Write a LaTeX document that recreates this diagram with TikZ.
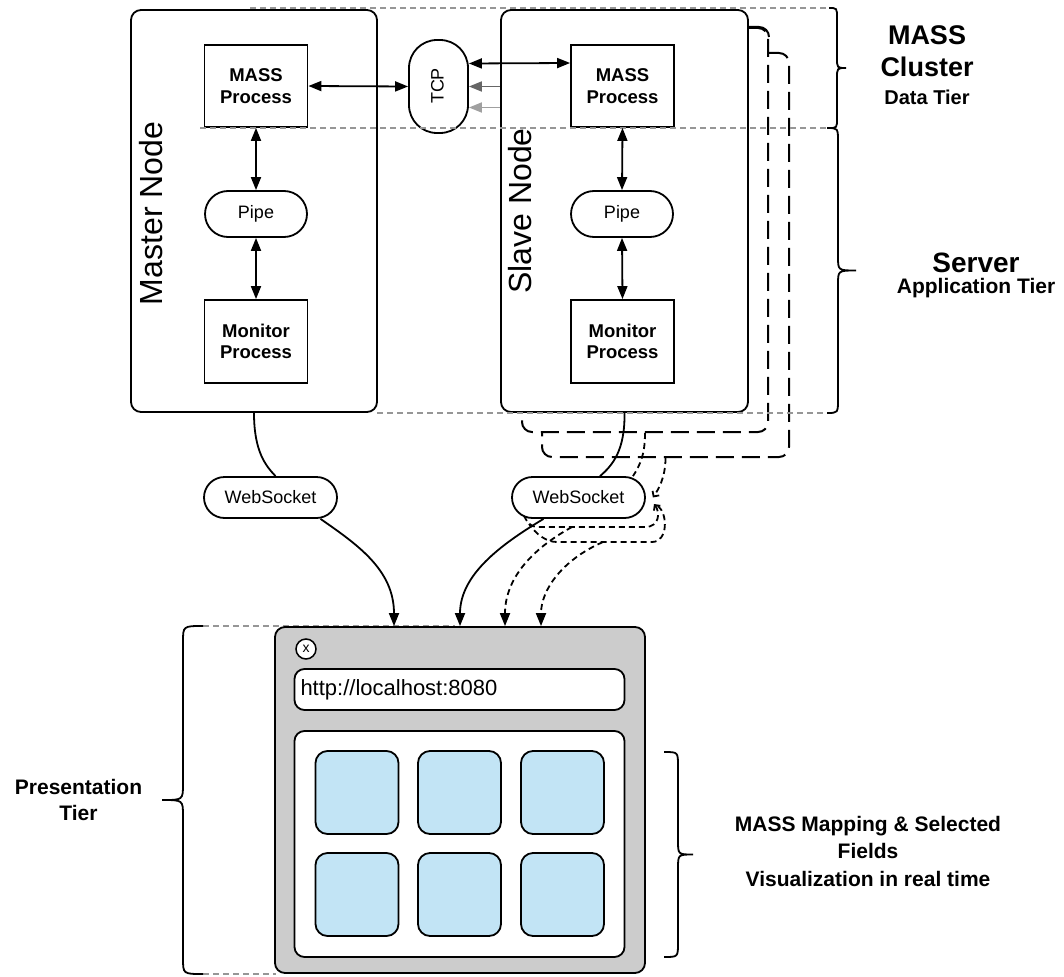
\documentclass[tikz,border=0pt]{standalone}
\usepackage{fontspec}
\setmainfont{Liberation Sans}
\usetikzlibrary{arrows.meta,calc}
\definecolor{browsergray}{RGB}{204,204,204}
\definecolor{tileblue}{RGB}{194,228,245}
\definecolor{guidegray}{RGB}{150,150,150}
\definecolor{darkarrow}{RGB}{102,102,102}
\definecolor{lightarrow}{RGB}{160,160,160}
\newcommand{\fsz}[2]{\fontsize{#1}{#2}\selectfont}
\newcommand{\tierbrace}[6]{%
 \draw[bracestyle] (#1,#4) .. controls (#2,#4) .. (#2,{#4+#6}) -- (#2,{(#4+#5)/2-#6}) .. controls (#2,{(#4+#5)/2}) .. (#3,{(#4+#5)/2}) .. controls (#2,{(#4+#5)/2}) .. (#2,{(#4+#5)/2+#6}) -- (#2,{#5-#6}) .. controls (#2,#5) .. (#1,#5);}
\begin{document}
\begin{tikzpicture}[x=1pt,y=-1pt,
  box/.style={draw, line width=1.8pt, fill=white, inner sep=0pt, align=center},
  nodebox/.style={box, rounded corners=10pt},
  shadowbox/.style={draw, line width=2pt, fill=white, rounded corners=10pt, dash pattern=on 18pt off 8pt, inner sep=0pt},
  procbox/.style={box, minimum width=103pt, minimum height=82pt, font=\fsz{18.5}{21.7}\bfseries},
  pill/.style={box, minimum width=102pt, minimum height=46pt, rounded corners=23pt, font=\fsz{18}{22}},
  wspill/.style={box, minimum width=133pt, minimum height=41pt, rounded corners=20.5pt, font=\fsz{18}{22}},
  tile/.style={box, fill=tileblue, rounded corners=12pt, minimum width=83pt, minimum height=83pt},
  guide/.style={draw=guidegray, line width=1.5pt, dash pattern=on 6pt off 4pt},
  link/.style={line width=1.8pt},
  dbl/.style={link, {Triangle[length=13pt,width=10pt]}-{Triangle[length=13pt,width=10pt]}},
  arr/.style={link, -{Triangle[length=13pt,width=10pt]}},
  dashlink/.style={line width=1.8pt, dash pattern=on 6pt off 4pt},
  bracestyle/.style={draw, line width=1.8pt},
  bigtitle/.style={font=\fsz{27}{32}\bfseries, anchor=base},
  subtitle/.style={font=\fsz{21}{25}\bfseries, anchor=base}
]
\useasboundingbox (0,0) rectangle (1064,976);

% node frames
\node[shadowbox, minimum width=247pt, minimum height=404pt] (box3) at (665.5,255) {};
\node[shadowbox, minimum width=246pt, minimum height=404pt] (box2) at (645,230) {};
\node[nodebox, minimum width=247pt, minimum height=402pt] (slave) at (624.5,211) {};
\node[nodebox, minimum width=246pt, minimum height=402pt] (master) at (254,211) {};
% solid visible corner of the second frame
\draw[line width=2pt] (slave.north east |- box2.north) -- ([xshift=-10pt]box2.north east) arc[start angle=90, end angle=0, radius=10pt];

\node[rotate=90, font=\fsz{32}{38}] (mlabel) at (151.5,213.5) {Master Node};
\node[rotate=90, font=\fsz{32}{38}] (slabel) at (520.5,211) {Slave Node};

% processes
\node[procbox] (mpM) at (256,86) {MASS\\Process};
\node[pill] (pipeM) at (256,214) {Pipe};
\node[procbox, minimum height=83pt] (monM) at (256,341.5) {Monitor\\Process};
\node[procbox] (mpS) at (622.5,86) {MASS\\Process};
\node[pill] (pipeS) at (622,214) {Pipe};
\node[procbox, minimum height=83pt] (monS) at (622.5,341.5) {Monitor\\Process};

% TCP
\node[box, rounded corners=28pt, minimum width=59pt, minimum height=93pt] (tcp) at (438.5,86.5) {};
\node[rotate=90, font=\fsz{18}{22}] (tcptext) at (437.5,86) {TCP};

% websockets
\node[wspill] (wsM) at (270.5,497.5) {WebSocket};
\node[wspill] (wsS) at (578.5,497.5) {WebSocket};

% guide lines
\draw[guide] (250,8) -- (829,8);
\draw[guide] (200,128) -- (829,128);
\draw[guide] (377,413) -- (828,413);
\draw[guide] (203,626) -- (455,626);
\draw[guide] (203,974) -- (276,974);

% browser
\node[draw, line width=1.8pt, fill=browsergray, rounded corners=10pt, minimum width=370pt, minimum height=346pt, inner sep=0pt] (browser) at (460,800) {};
\node[draw, circle, line width=1.5pt, fill=white, minimum size=20pt, inner sep=0pt, font=\fsz{14}{16}] (closebtn) at (306,649) {x};
\node[box, rounded corners=10pt, minimum width=330pt, minimum height=41pt, text width=318pt, align=left, inner xsep=6pt, font=\fsz{22}{26}] (url) at (459.5,689.5) {http://localhost:8080};
\node[box, rounded corners=10pt, minimum width=330pt, minimum height=226pt] (panel) at (459.5,844) {};
\node[tile] (t11) at (357,792.5) {};
\node[tile] (t12) at (459.5,792.5) {};
\node[tile] (t13) at (562.5,792.5) {};
\node[tile] (t21) at (357,894.5) {};
\node[tile] (t22) at (459.5,894.5) {};
\node[tile] (t23) at (562.5,894.5) {};

% connectors inside nodes
\draw[dbl] (mpM.east) -- (tcp.west);
\draw[dbl] ([yshift=23pt]tcp.east) -- ([yshift=23pt]mpS.west);
\coordinate (g1) at (slave.west |- tcp.east);
\draw[arr, draw=darkarrow] (g1) -- (tcp.east);
\draw[arr, draw=lightarrow] ([yshift=-21pt]g1) -- ([yshift=-21pt]tcp.east);
\draw[dbl] (mpM.south) -- (pipeM.north);
\draw[dbl] (pipeM.south) -- (monM.north);
\draw[dbl] (mpS.south) -- (pipeS.north);
\draw[dbl] (pipeS.south) -- (monS.north);

% websocket connectors
\draw[link] (master.south) .. controls (254,452) and (266,466) .. ([xshift=5pt]wsM.north);
\draw[arr] ([xshift=50pt]wsM.south) .. controls (358,545) and (394,570) .. ([xshift=-66pt]browser.north);
\draw[link] (slave.south) .. controls (625,450) and (613,465) .. ([xshift=21.5pt]wsS.north);
\draw[arr] ([xshift=-35pt]wsS.south) .. controls (500,545) and (460,575) .. (browser.north);

% dashed connectors of the other slave nodes
\draw[dashlink] (box2.south) .. controls (645,455) and (640,465) .. ([xshift=54.5pt]wsS.north);
\draw[dashlink, -{Straight Barb[length=4pt,width=8pt]}] (box3.south) .. controls (665.5,478) and (658,490) .. ([xshift=7pt]wsS.east);
\coordinate (c1) at (654,504);
\coordinate (c2) at (524,516);
\coordinate (d1) at (658,506);
\coordinate (d2) at (529,524);
\coordinate (e1) at (572,527);
\coordinate (e2) at (603,542);
\draw[dashlink, {Straight Barb[length=4pt,width=8pt]}-] (c1) .. controls (660,512) and (660,527) .. (645,527) -- (537,527) .. controls (531,527) and (527,522) .. (c2);
\draw[dashlink] (d1) .. controls (668,514) and (668,542) .. (652,542) -- (557,542) .. controls (546,542) and (536,534) .. (d2);
\draw[dashlink, -{Triangle[length=13pt,width=10pt]}] (e1) .. controls (530,550) and (505,580) .. ([xshift=45pt]browser.north);
\draw[dashlink, -{Triangle[length=13pt,width=10pt]}] (e2) .. controls (562,560) and (541,590) .. ([xshift=81pt]browser.north);

% braces
\tierbrace{829}{837}{846}{8}{128}{10}
\tierbrace{827}{838}{856}{128}{413}{14}
\tierbrace{664}{678}{693}{752}{957}{14}
\tierbrace{203}{183}{162}{626}{974}{16}

% tier labels
\node[bigtitle] (lmass) at (927,45) {MASS};
\node[bigtitle] (lcluster) at (927,77) {Cluster};
\node[font=\fsz{20}{24}\bfseries, anchor=base] (ldata) at (927,105) {Data Tier};
\node[bigtitle, font=\fsz{28}{32}\bfseries] (lserver) at (976,272) {Server};
\node[subtitle] (lapp) at (976,293) {Application Tier};
\node[font=\fsz{21}{26}\bfseries, align=center] (lpres) at (78.5,799.5) {Presentation\\Tier};
\node[font=\fsz{21}{27.5}\bfseries, align=center] (lmap) at (868,851) {MASS Mapping \& Selected\\Fields\\Visualization in real time};
\end{tikzpicture}
\end{document}
